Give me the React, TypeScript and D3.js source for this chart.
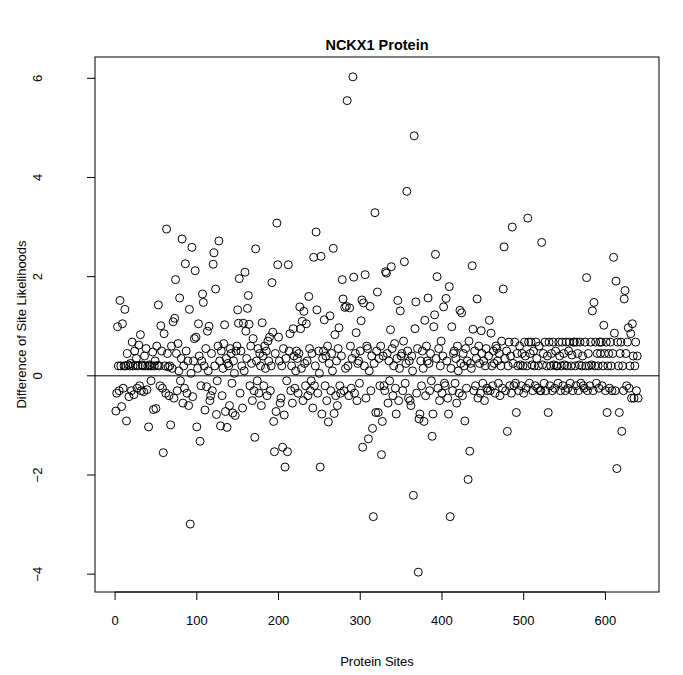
import React from "react";
import * as d3 from "d3";

const title = "NCKX1 Protein";
const xLabel = "Protein Sites";
const yLabel = "Difference of Site Likelihoods";
const xTicks = [0, 100, 200, 300, 400, 500, 600];
const yTicks = [-4, -2, 0, 2, 4, 6];

const diffs: number[] = [
  -0.71, -0.35, 0.99, 0.2, -0.3, 1.52, 0.2, -0.62, 1.05, -0.25, 0.2,
  1.34, 0.2, -0.91, 0.45, 0.22, -0.42, 0.2, 0.25, -0.3, 0.68,
  0.2, -0.38, 0.5, 0.21, 0.35, -0.25, 0.2, 0.62, -0.2, 0.83, -0.3,
  0.22, 0.2, -0.32, 0.4, 0.2, 0.55, -0.28, 0.2, -1.03, 0.22, 0.2,
  -0.1, 0.2, 0.48, -0.68, 0.2, 0.3, -0.66, 0.6, 0.21, 1.43,
  0.2, -0.2, 1.01, 0.5, -0.25, -1.55, 0.85, 0.2, -0.35, 2.96, 0.45,
  0.18, -0.4, 0.2, -0.99, 0.6, 0.15, 1.09, -0.45, 1.16, 1.94,
  0.45, -0.3, 0.65, 0.1, 1.57, -0.1, 0.35, 2.76, -0.55, 0.2, -0.25,
  2.26, 0.5, -0.35, 0.3, -0.6, 1.34, -2.99, 0.05, 2.59, -0.42, 0.3,
  0.75, 2.12, 0.78, -1.03, 0.15, 1.05, 0.4, -1.32, -0.2, 0.3,
  1.65, 1.48, 0.2, -0.69, 0.55, -0.22, 0.9, 0.1, 1.0, -0.5, -0.4,
  0.45, -0.3, 2.25, 2.48, 0.2, 1.75, -0.78, -0.1, 0.6, 2.72,
  0.3, -1.01, 0.5, -0.4, 0.15, 0.65, 1.03, -0.72, 0.35, -1.04, 0.25,
  0.2, -0.6, 0.55, 0.45, -0.15, -0.75, 0.3, 0.05, -0.8, 0.5, 0.6,
  1.33, 1.06, 1.96, -0.35, 0.5, 0.2, -0.65, 1.06, 0.1, 2.09,
  0.9, 0.35, 1.36, 1.62, 1.04, -0.2, 0.6, 0.25, -0.5, 0.75, -0.3,
  -1.24, 2.56, 0.3, -0.1, 0.55, -0.35, 0.45, 0.2, -0.6, 1.07,
  0.4, -0.2, 0.6, 0.15, 0.5, -0.4, 0.7, 0.3, 0.78, -0.3, 0.2,
  1.88, 0.88, -0.92, -1.53, 0.45, -0.72, 3.08, 2.24, 0.78, 0.3, -0.55,
  -0.45, 0.2, -1.44, 0.55, -0.79, -1.84, 0.35, -0.1, -1.53, 2.24,
  0.5, 0.85, -0.3, 0.2, -0.55, 0.95, 0.4, -0.25, 0.1, 0.5, 0.35,
  -0.35, 0.45, 1.39, 0.95, 0.15, 1.1, -0.5, 1.3, 0.25, -0.2,
  1.05, 0.3, -0.4, 1.6, 0.55, -0.3, -0.1, 0.45, -0.65, 2.39, -0.2,
  0.2, 2.9, 1.33, -0.35, 0.5, 0.05, -1.84, 2.41, -0.77, 0.35, 0.5,
  1.13, -0.2, 0.4, -0.5, 0.6, -0.93, 0.25, 1.21, -0.3, 0.45,
  0.1, 2.57, -0.76, 0.83, -0.4, 0.3, -0.6, 0.55, 0.97, -0.2, -0.35,
  0.4, 1.94, 1.55, -0.3, 1.38, 0.15, 1.4, 5.55, 0.2, -0.4,
  1.37, 0.6, -0.25, 0.35, 6.03, 1.99, -0.35, 0.45, 0.87, -0.5, 0.25,
  0.3, -0.15, 0.5, 1.11, 1.53, -1.44, 1.47, 0.2, 2.04, -0.45, 0.6,
  0.55, -1.27, 0.1, 1.4, -0.3, 0.4, -1.06, -2.84, 0.25, 3.29,
  -0.74, 0.5, 1.69, -0.74, 0.35, -0.2, 0.6, -1.59, -0.92, 0.4, -0.2,
  -0.3, 2.1, 2.07, 0.45, -0.55, 0.3, -0.1, 0.93, 2.2, 0.55,
  -0.4, 0.2, 0.65, -0.25, -0.77, 0.35, 1.52, -0.5, 0.15, 1.31, 0.4,
  0.45, -0.3, 0.7, 2.3, -0.15, 0.25, 3.72, 0.5, -0.45, 0.3, -0.5,
  -0.6, 0.4, 0.1, -2.41, 4.84, 0.95, 1.49, -0.35, 0.55, -3.96,
  -0.87, -0.77, 0.3, -0.2, 0.5, 0.15, -0.92, 1.12, -0.4, 0.6, 0.3,
  1.57, 0.25, -0.3, 0.45, -0.1, -1.22, -0.77, 0.99, 1.23, 2.45,
  0.35, 2.0, -0.25, 0.55, -0.5, 0.2, 0.7, -0.35, 0.4, 1.39, -0.15,
  -0.2, 1.56, 0.3, -0.45, -0.77, 1.8, -2.84, 0.15, 0.99, -0.3, 0.45,
  0.5, -0.15, 0.35, -0.55, 0.6, 0.1, -0.35, 1.32, 0.25, 1.27,
  -0.4, 0.45, 0.2, -0.91, 0.55, -0.25, 0.3, -2.09, 0.7, -1.52, 0.25,
  0.15, 2.22, 0.94, -0.3, 0.5, -0.2, 0.35, 1.55, -0.45, 0.6,
  0.25, -0.35, 0.91, 0.45, -0.15, 0.3, -0.5, 0.2, 0.55, -0.25, -0.3,
  0.4, 1.12, -0.3, 0.86, 0.2, -0.2, 0.5, 0.25, -0.35, 0.6, 0.55,
  0.3, -0.15, 0.45, -0.4, 0.2, 0.7, -0.25, 1.75, 2.6, 0.35,
  -0.3, 0.5, -1.12, 0.2, 0.68, -0.2, 0.4, -0.35, 3.0, 0.25, -0.2,
  0.68, -0.15, -0.74, 0.45, 0.2, -0.3, 0.6, 0.22, -0.2, 0.45,
  0.2, -0.35, 0.68, 0.4, -0.25, 0.2, 3.18, 0.68, -0.15, 0.45, 0.68,
  0.22, -0.3, 0.5, 0.2, -0.2, 0.68, 0.35, -0.25, 0.2, 0.6, -0.3,
  -0.3, 2.69, 0.22, 0.45, -0.15, 0.68, -0.3, 0.2, 0.4, -0.74,
  0.68, -0.2, 0.2, 0.45, -0.3, 0.68, 0.22, -0.25, 0.5, 0.2, 0.2,
  -0.15, 0.68, 0.4, -0.3, 0.2, 0.68, -0.2, 0.45, 0.22, -0.3,
  0.68, 0.2, -0.25, 0.5, 0.68, -0.15, 0.2, 0.42, -0.3, 0.68, 0.68,
  0.2, -0.2, 0.68, 0.45, -0.3, 0.22, 0.68, -0.15, 0.2, 0.4, -0.2,
  -0.25, 0.68, 0.2, 1.98, -0.3, 0.45, 0.2, -0.2, 0.68, 0.22,
  1.31, -0.3, 1.48, 0.2, 0.68, -0.15, 0.45, 0.2, -0.25, 0.68, 0.45,
  0.68, -0.2, 0.2, 1.02, 0.45, -0.3, 0.68, -0.74, 0.2, 0.45,
  -0.25, 0.68, 0.2, -0.3, 0.45, 2.39, 0.86, -0.3, 1.91, -1.87, 0.68, 0.2,
  -0.74, 0.45, 0.68, -1.12, 0.2, -0.3, 1.55, 1.72, 0.45, -0.2,
  0.68, 0.97, -0.25, 0.2, 0.85, -0.45, 1.05, 0.4, -0.45, 0.2,
  0.68, -0.3, 0.4, -0.45,
];

const W = 683;
const H = 675;
const plot = { left: 95, right: 659, top: 57, bottom: 592 };
const FONT = "'Liberation Sans', Arial, Helvetica, sans-serif";

export default function App() {
  const n = diffs.length;
  const xPad = 0.04 * (n - 1);
  const x = d3.scaleLinear().domain([1 - xPad, n + xPad]).range([plot.left, plot.right]);
  const yMin = d3.min(diffs)!;
  const yMax = d3.max(diffs)!;
  const yPad = 0.04 * (yMax - yMin);
  const y = d3.scaleLinear().domain([yMin - yPad, yMax + yPad]).range([plot.bottom, plot.top]);
  const tick = 8;

  return (
    <svg width={W} height={H} style={{ position: "absolute", left: 0, top: 0, background: "#fff" }} fontFamily={FONT}>
      <defs>
        <clipPath id="pc">
          <rect x={plot.left} y={plot.top} width={plot.right - plot.left} height={plot.bottom - plot.top} />
        </clipPath>
      </defs>
      <text x={(plot.left + plot.right) / 2} y={50} textAnchor="middle" fontWeight="bold" fontSize={14.5}>
        {title}
      </text>
      <g clipPath="url(#pc)">
        <line x1={plot.left} x2={plot.right} y1={y(0)} y2={y(0)} stroke="#000" strokeWidth={1} />
        {diffs.map((v, i) => (
          <circle key={i} cx={x(i + 1)} cy={y(v)} r={4} fill="none" stroke="#000" strokeWidth={1} />
        ))}
      </g>
      <rect x={plot.left} y={plot.top} width={plot.right - plot.left} height={plot.bottom - plot.top} fill="none" stroke="#000" strokeWidth={1} />
      <g>
        <line x1={x(xTicks[0])} x2={x(xTicks[xTicks.length - 1])} y1={plot.bottom} y2={plot.bottom} stroke="#000" />
        {xTicks.map((t) => (
          <g key={t}>
            <line x1={x(t)} x2={x(t)} y1={plot.bottom} y2={plot.bottom + tick} stroke="#000" />
            <text x={x(t)} y={625} textAnchor="middle" fontSize={13}>
              {t}
            </text>
          </g>
        ))}
      </g>
      <g>
        {yTicks.map((t) => (
          <g key={t}>
            <line x1={plot.left - tick} x2={plot.left} y1={y(t)} y2={y(t)} stroke="#000" />
            <text transform={`translate(${42},${y(t)}) rotate(-90)`} textAnchor="middle" fontSize={13}>
              {t < 0 ? "\u2212" + Math.abs(t) : String(t)}
            </text>
          </g>
        ))}
      </g>
      <text x={(plot.left + plot.right) / 2} y={666} textAnchor="middle" fontSize={13}>
        {xLabel}
      </text>
      <text transform={`translate(${26},${(plot.top + plot.bottom) / 2}) rotate(-90)`} textAnchor="middle" fontSize={13}>
        {yLabel}
      </text>
    </svg>
  );
}
